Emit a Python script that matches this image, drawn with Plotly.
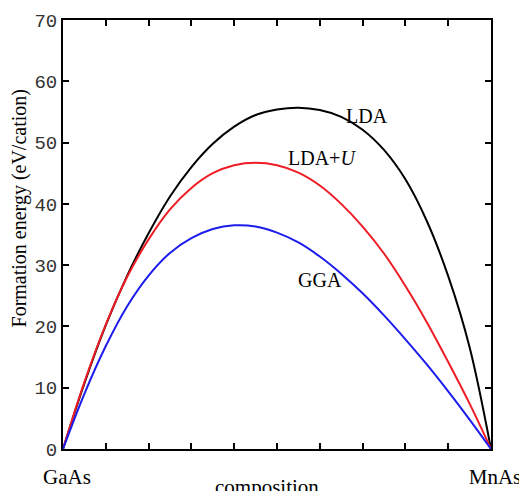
import plotly.graph_objects as go

# Composition (0 = GaAs, 1 = MnAs)
composition = [0.0, 0.05, 0.10, 0.15, 0.20, 0.25, 0.30, 0.35, 0.40, 0.45, 0.50,
               0.55, 0.60, 0.65, 0.70, 0.75, 0.80, 0.85, 0.90, 0.95, 1.0]
# Formation energy (eV/cation)
lda_y = [0.0, 10.7, 20.2, 28.3, 35.2, 41.2, 46.0, 49.8, 52.6, 54.5, 55.4,
         55.7, 55.3, 54.2, 52.1, 48.8, 44.0, 37.2, 28.2, 16.6, 0.0]
ldau_y = [0.0, 10.9, 20.3, 28.1, 34.2, 39.1, 42.6, 45.0, 46.3, 46.7, 46.3,
          45.1, 43.0, 40.0, 36.3, 31.9, 26.6, 20.7, 14.2, 7.4, 0.0]
gga_y = [0.0, 9.0, 16.8, 23.3, 28.3, 32.0, 34.4, 35.9, 36.5, 36.3, 35.3,
         33.7, 31.4, 28.6, 25.4, 21.8, 17.9, 13.8, 9.4, 4.8, 0.0]

series_names = ["LDA", "LDA+<i>U</i>", "GGA"]
label_x = [0.7096, 0.6044, 0.6005]
label_y = [54.4, 47.5, 27.5]

x_tick_vals = [0.0, 0.1, 0.2, 0.3, 0.4, 0.5, 0.6, 0.7, 0.8, 0.9, 1.0]
x_tick_text = ["GaAs", "", "", "", "", "", "", "", "", "", "MnAs"]
y_tick_vals = [0, 10, 20, 30, 40, 50, 60, 70]

SERIF = "Liberation Serif, Times New Roman, serif"
MONO = "Liberation Mono, Courier New, monospace"

fig = go.Figure()
for ys, col in [(lda_y, "#000000"), (ldau_y, "#ee1c24"), (gga_y, "#1c1ced")]:
    fig.add_trace(go.Scatter(x=composition, y=ys, mode="lines",
                             line=dict(color=col, width=2, shape="spline", smoothing=1.0),
                             showlegend=False, hoverinfo="skip"))

for name, lx, ly in zip(series_names, label_x, label_y):
    fig.add_annotation(x=lx, y=ly, xref="x", yref="y", text=name, showarrow=False,
                       xanchor="center", yanchor="middle",
                       font=dict(family=SERIF, size=20, color="black"))

fig.add_annotation(x=-0.1005, y=0.5606, xref="paper", yref="paper",
                   text="Formation energy (eV/cation)", textangle=-90, showarrow=False,
                   xanchor="center", yanchor="middle",
                   font=dict(family=SERIF, size=20, color="black"))
fig.add_annotation(x=0.4766, y=-0.089, xref="paper", yref="paper",
                   text="composition", showarrow=False,
                   xanchor="center", yanchor="middle",
                   font=dict(family=SERIF, size=21, color="black"))

# the page adds an 8px body margin, so the figure is 8px smaller and margins compensate
fig.update_layout(
    width=519, height=483,
    margin=dict(l=55, r=36, t=12, b=42),
    paper_bgcolor="white", plot_bgcolor="white",
    xaxis=dict(range=[0, 1], tickvals=x_tick_vals, ticktext=x_tick_text,
               ticks="inside", ticklen=6, tickwidth=2, tickcolor="black",
               showline=True, linewidth=2, linecolor="black", mirror="ticks",
               showgrid=False, zeroline=False, automargin=False,
               ticklabelstandoff=8, ticklabelshift=4,
               tickfont=dict(family=SERIF, size=21, color="black")),
    yaxis=dict(range=[0, 70], tickvals=y_tick_vals,
               ticks="inside", ticklen=6, tickwidth=2, tickcolor="black",
               showline=True, linewidth=2, linecolor="black", mirror="ticks",
               showgrid=False, zeroline=False, automargin=False,
               tickfont=dict(family=MONO, size=19, color="#333333")),
)

fig.write_html("out.html")
